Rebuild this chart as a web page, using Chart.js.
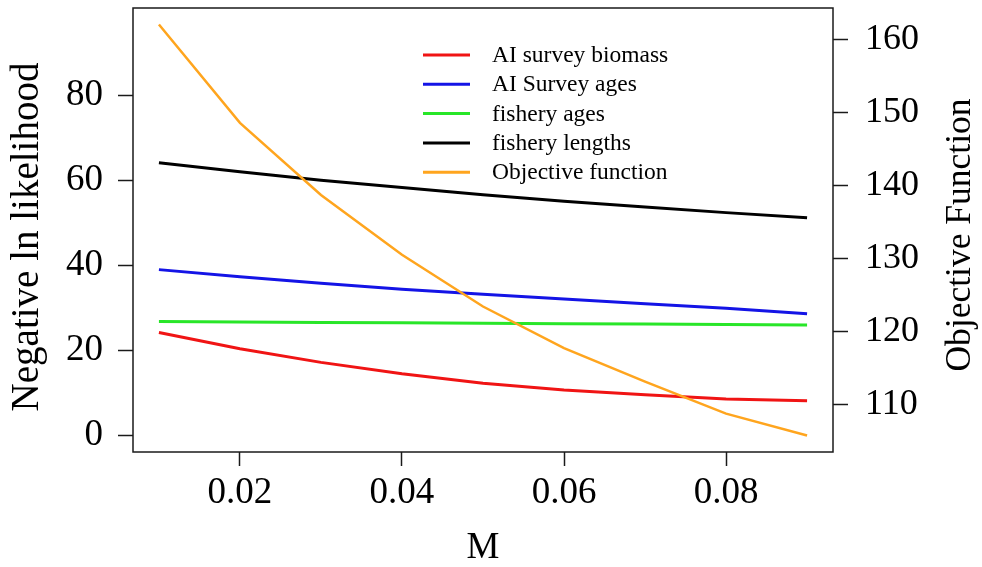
<!DOCTYPE html>
<html>
<head>
<meta charset="utf-8">
<script src="https://cdn.jsdelivr.net/npm/chart.js@4.4.0/dist/chart.umd.min.js"></script>
<style>
  html, body { margin: 0; padding: 0; background: #fff; }
</style>
</head>
<body>
<canvas id="myChart" width="982" height="567"></canvas>
<script>
// Values
const mValues = [0.01, 0.02, 0.03, 0.04, 0.05, 0.06, 0.07, 0.08, 0.09]
const aiSurveyBiomass = [24.2, 20.4, 17.2, 14.5, 12.3, 10.7, 9.6, 8.6, 8.2]
const aiSurveyAges = [39.0, 37.3, 35.8, 34.4, 33.2, 32.1, 31.0, 29.9, 28.6]
const fisheryAges = [26.8, 26.7, 26.6, 26.5, 26.4, 26.3, 26.2, 26.1, 26.0]
const fisheryLengths = [64.1, 62.0, 60.0, 58.3, 56.6, 55.1, 53.7, 52.4, 51.2]
const objectiveFunction = [162.1, 148.6, 138.7, 130.5, 123.4, 117.7, 113.1, 108.7, 105.7]

const xTicks = [0.02, 0.04, 0.06, 0.08]
const leftTicks = [0, 20, 40, 60, 80]
const rightTicks = [110, 120, 130, 140, 150, 160]

const serif = 'Liberation Serif, "Times New Roman", serif'
const ink = '#1a1a1a'

const toPoints = (vals) => vals.map((v, i) => ({ x: mValues[i], y: v }))

const line = (label, vals, color, extra) => Object.assign({
  label: label,
  data: toPoints(vals),
  borderColor: color,
  backgroundColor: color,
  borderWidth: 3,
  pointRadius: 0,
  tension: 0,
  yAxisID: 'y'
}, extra || {})

// fixed axis sizes, no extra padding for the end labels
const fitTo = (size) => (s) => {
  if (s.isHorizontal()) s.height = size
  else s.width = size
  s.paddingTop = 0
  s.paddingBottom = 0
  s.paddingLeft = 0
  s.paddingRight = 0
}

// box, rotated axis titles and the legend
const decorations = {
  id: 'decorations',
  afterDraw(chart) {
    const { ctx, chartArea: a } = chart
    ctx.save()
    ctx.strokeStyle = ink
    ctx.lineWidth = 1.5
    ctx.strokeRect(a.left, a.top, a.right - a.left, a.bottom - a.top)

    ctx.fillStyle = '#000'
    ctx.textAlign = 'center'
    ctx.textBaseline = 'middle'

    ctx.save()
    ctx.translate(28, 237)
    ctx.rotate(-Math.PI / 2)
    ctx.font = '39px ' + serif
    ctx.fillText('Negative ln likelihood', 0, 0)
    ctx.restore()

    ctx.save()
    ctx.translate(961, 235)
    ctx.rotate(-Math.PI / 2)
    ctx.font = '35.5px ' + serif
    ctx.fillText('Objective Function', 0, 0)
    ctx.restore()

    // legend
    ctx.font = '23.5px ' + serif
    ctx.textAlign = 'left'
    chart.data.datasets.forEach((ds, i) => {
      const y = 55 + i * 29.3
      ctx.strokeStyle = ds.borderColor
      ctx.lineWidth = 3
      ctx.beginPath()
      ctx.moveTo(423, y)
      ctx.lineTo(470, y)
      ctx.stroke()
      ctx.fillStyle = '#000'
      ctx.fillText(ds.label, 492, y + 1)
    })
    ctx.restore()
  }
}

const tickFont = { family: serif, size: 37 }

new Chart(document.getElementById('myChart'), {
  type: 'line',
  data: {
    datasets: [
      line('AI survey biomass', aiSurveyBiomass, '#f01414'),
      line('AI Survey ages', aiSurveyAges, '#1414e6'),
      line('fishery ages', fisheryAges, '#28e628'),
      line('fishery lengths', fisheryLengths, '#000000'),
      line('Objective function', objectiveFunction, '#ffa51e', { yAxisID: 'y2', borderWidth: 2.5, order: -1 })
    ]
  },
  options: {
    responsive: false,
    animation: false,
    layout: { padding: { top: 8, left: 0, right: 0, bottom: 0 } },
    plugins: {
      legend: { display: false },
      tooltip: { enabled: false }
    },
    scales: {
      x: {
        type: 'linear',
        position: 'bottom',
        min: 0.0068,
        max: 0.0932,
        afterBuildTicks: (s) => { s.ticks = xTicks.map(v => ({ value: v })) },
        afterFit: fitTo(115),
        ticks: {
          font: tickFont,
          color: '#000',
          padding: 5,
          autoSkip: false,
          maxRotation: 0,
          callback: (v) => v.toFixed(2)
        },
        grid: { drawOnChartArea: false, tickLength: 14, tickColor: ink, tickWidth: 1.5 },
        border: { display: false },
        title: {
          display: true,
          text: 'M',
          color: '#000',
          font: { family: serif, size: 37, lineHeight: 1 },
          padding: { top: 0, bottom: 0 }
        }
      },
      y: {
        position: 'left',
        min: -3.87,
        max: 100.5,
        afterBuildTicks: (s) => { s.ticks = leftTicks.map(v => ({ value: v })) },
        afterFit: fitTo(133),
        ticks: { font: tickFont, color: '#000', padding: 15 },
        grid: { drawOnChartArea: false, tickLength: 15, tickColor: ink, tickWidth: 1.5 },
        border: { display: false }
      },
      y2: {
        position: 'right',
        min: 103.44,
        max: 164.36,
        afterBuildTicks: (s) => { s.ticks = rightTicks.map(v => ({ value: v })) },
        afterFit: fitTo(149),
        ticks: { font: { family: serif, size: 36 }, color: '#000', padding: 17 },
        grid: { drawOnChartArea: false, tickLength: 15, tickColor: ink, tickWidth: 1.5 },
        border: { display: false }
      }
    }
  },
  plugins: [decorations]
})
</script>
</body>
</html>
